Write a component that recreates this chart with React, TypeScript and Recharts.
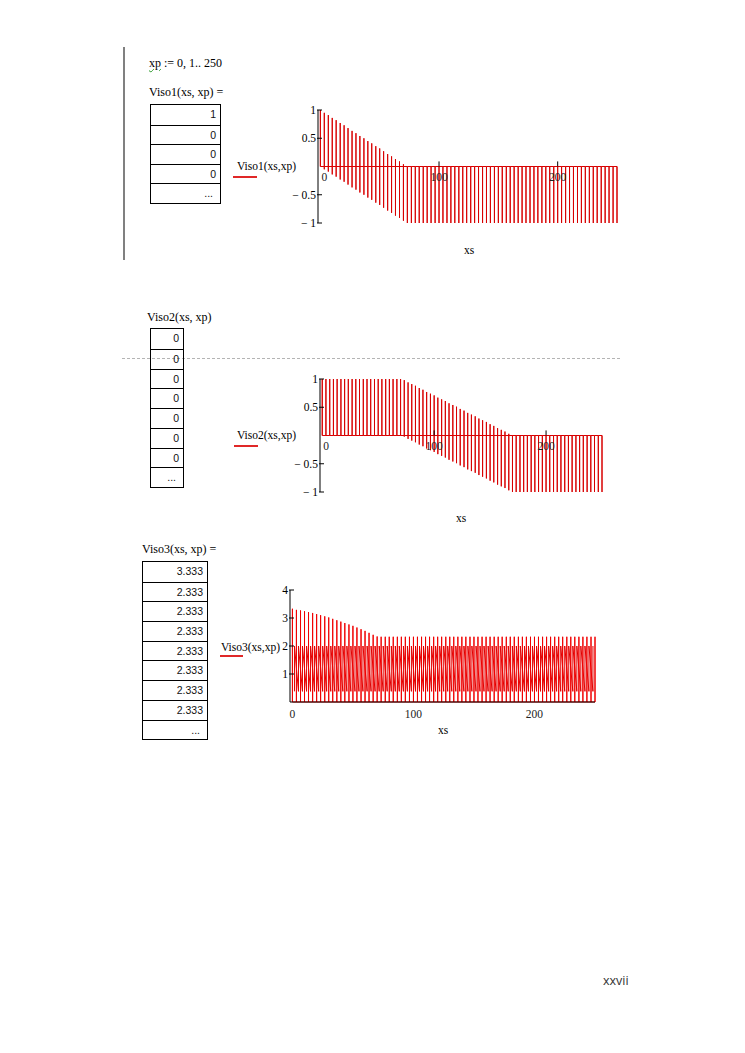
import React from 'react';
import { LineChart, Line, XAxis, YAxis, ReferenceDot, ReferenceLine } from 'recharts';

const SERIF = '"Liberation Serif", "Times New Roman", serif';
const SANS = '"Liberation Sans", Arial, sans-serif';

// stripe positions along xs (shared by the three plots)
const stripeXs = [
  0, 3.3, 6.7, 10, 13.3, 16.7, 20, 23.3, 26.7, 30,
  33.3, 36.7, 40, 43.3, 46.7, 50, 53.3, 56.7, 60, 63.3,
  66.7, 70, 73.3, 76.7, 80, 83.3, 86.7, 90, 93.3, 96.7,
  100, 103.3, 106.7, 110, 113.3, 116.7, 120, 123.3, 126.7, 130,
  133.3, 136.7, 140, 143.3, 146.7, 150, 153.3, 156.7, 160, 163.3,
  166.7, 170, 173.3, 176.7, 180, 183.3, 186.7, 190, 193.3, 196.7,
  200, 203.3, 206.7, 210, 213.3, 216.7, 220, 223.3, 226.7, 230,
  233.3, 236.7, 240, 243.3, 246.7, 250,
];

const viso1Top = [
  1, 0.95, 0.91, 0.86, 0.82, 0.77, 0.73, 0.68, 0.63, 0.59,
  0.54, 0.5, 0.45, 0.41, 0.36, 0.32, 0.27, 0.22, 0.18, 0.13,
  0.09, 0.04, 0, 0, 0, 0, 0, 0, 0, 0,
  0, 0, 0, 0, 0, 0, 0, 0, 0, 0,
  0, 0, 0, 0, 0, 0, 0, 0, 0, 0,
  0, 0, 0, 0, 0, 0, 0, 0, 0, 0,
  0, 0, 0, 0, 0, 0, 0, 0, 0, 0,
  0, 0, 0, 0, 0, 0,
];
const viso1Bottom = [
  0, -0.05, -0.09, -0.14, -0.18, -0.23, -0.27, -0.32, -0.37, -0.41,
  -0.46, -0.5, -0.55, -0.59, -0.64, -0.68, -0.73, -0.78, -0.82, -0.87,
  -0.91, -0.96, -1, -1, -1, -1, -1, -1, -1, -1,
  -1, -1, -1, -1, -1, -1, -1, -1, -1, -1,
  -1, -1, -1, -1, -1, -1, -1, -1, -1, -1,
  -1, -1, -1, -1, -1, -1, -1, -1, -1, -1,
  -1, -1, -1, -1, -1, -1, -1, -1, -1, -1,
  -1, -1, -1, -1, -1, -1,
];

const viso2Top = [
  1, 1, 1, 1, 1, 1, 1, 1, 1, 1,
  1, 1, 1, 1, 1, 1, 1, 1, 1, 1,
  1, 1, 0.98, 0.94, 0.91, 0.88, 0.84, 0.81, 0.77, 0.74,
  0.71, 0.67, 0.64, 0.61, 0.57, 0.54, 0.51, 0.47, 0.44, 0.4,
  0.37, 0.34, 0.3, 0.27, 0.24, 0.2, 0.17, 0.13, 0.1, 0.07,
  0.03, 0, 0, 0, 0, 0, 0, 0, 0, 0,
  0, 0, 0, 0, 0, 0, 0, 0, 0, 0,
  0, 0, 0, 0, 0, 0,
];
const viso2Bottom = [
  0, 0, 0, 0, 0, 0, 0, 0, 0, 0,
  0, 0, 0, 0, 0, 0, 0, 0, 0, 0,
  0, 0, -0.02, -0.06, -0.09, -0.12, -0.16, -0.19, -0.23, -0.26,
  -0.29, -0.33, -0.36, -0.39, -0.43, -0.46, -0.49, -0.53, -0.56, -0.6,
  -0.63, -0.66, -0.7, -0.73, -0.76, -0.8, -0.83, -0.87, -0.9, -0.93,
  -0.97, -1, -1, -1, -1, -1, -1, -1, -1, -1,
  -1, -1, -1, -1, -1, -1, -1, -1, -1, -1,
  -1, -1, -1, -1, -1, -1,
];

const viso3Top = [
  3.33, 3.29, 3.27, 3.24, 3.21, 3.18, 3.14, 3.1, 3.06, 3.02,
  2.97, 2.92, 2.87, 2.82, 2.77, 2.72, 2.66, 2.6, 2.54, 2.47,
  2.4, 2.34, 2.33, 2.33, 2.33, 2.33, 2.33, 2.33, 2.33, 2.33,
  2.33, 2.33, 2.33, 2.33, 2.33, 2.33, 2.33, 2.33, 2.33, 2.33,
  2.33, 2.33, 2.33, 2.33, 2.33, 2.33, 2.33, 2.33, 2.33, 2.33,
  2.33, 2.33, 2.33, 2.33, 2.33, 2.33, 2.33, 2.33, 2.33, 2.33,
  2.33, 2.33, 2.33, 2.33, 2.33, 2.33, 2.33, 2.33, 2.33, 2.33,
  2.33, 2.33, 2.33, 2.33, 2.33, 2.33,
];
const viso3InnerXs = [
  1.7, 5, 8.3, 11.7, 15, 18.3, 21.7, 25, 28.3, 31.7,
  35, 38.3, 41.7, 45, 48.3, 51.7, 55, 58.3, 61.7, 65,
  68.3, 71.7, 75, 78.3, 81.7, 85, 88.3, 91.7, 95, 98.3,
  101.7, 105, 108.3, 111.7, 115, 118.3, 121.7, 125, 128.3, 131.7,
  135, 138.3, 141.7, 145, 148.3, 151.7, 155, 158.3, 161.7, 165,
  168.3, 171.7, 175, 178.3, 181.7, 185, 188.3, 191.7, 195, 198.3,
  201.7, 205, 208.3, 211.7, 215, 218.3, 221.7, 225, 228.3, 231.7,
  235, 238.3, 241.7, 245, 248.3,
];
const viso3InnerLevels = [0.38, 2.0];

const xTickValues = [0, 100, 200];
const viso12YTicks = [-1, -0.5, 0.5, 1];
const viso3YTicks = [1, 2, 3, 4];

const table1 = ['1', '0', '0', '0'];
const table2 = ['0', '0', '0', '0', '0', '0', '0'];
const table3 = ['3.333', '2.333', '2.333', '2.333', '2.333', '2.333', '2.333', '2.333'];

function stripeData(xs: number[], top: number[], bottom?: number[]) {
  const out: { x: number; y: number }[] = [];
  xs.forEach((x, i) => {
    out.push({ x, y: 0 }, { x, y: top[i] });
    if (bottom) out.push({ x, y: bottom[i] });
    out.push({ x, y: 0 });
  });
  return out;
}
function innerData(xs: number[], levels: number[]) {
  const out: { x: number; y: number }[] = [];
  xs.forEach((x) => {
    out.push({ x, y: levels[0] }, { x, y: levels[1] });
  });
  return out;
}

const data1 = stripeData(stripeXs, viso1Top, viso1Bottom);
const data2 = stripeData(stripeXs, viso2Top, viso2Bottom);
const data3 = stripeData(stripeXs, viso3Top);
const data3Inner = innerData(viso3InnerXs, viso3InnerLevels);

const fmtY = (v: number) => (v < 0 ? `\u2212 ${Math.abs(v)}` : String(v));

const YTick = (props: any) => {
  const { x, y, payload } = props;
  return (
    <g>
      <line x1={x - 1} x2={x + 4} y1={y} y2={y} stroke="#000" strokeWidth={1} />
      <text x={x - 2} y={y} dy="0.35em" textAnchor="end" fontSize={11.5} fontFamily={SERIF} fill="#000">
        {fmtY(payload.value)}
      </text>
    </g>
  );
};

const XLabel = (props: any) => {
  const { viewBox, value } = props;
  const cx = viewBox.x + viewBox.width / 2 + (value === 0 ? 4 : 0);
  const cy = viewBox.y + viewBox.height / 2;
  return (
    <text x={cx} y={cy + 10} dy="0.35em" textAnchor="middle" fontSize={11.5} fontFamily={SERIF} fill="#222">
      {String(value)}
    </text>
  );
};

const T = ({ x, y, size = 12, family = SERIF, children, style }: any) => (
  <div
    style={{
      position: 'absolute',
      left: x,
      top: y - size / 2,
      fontSize: size,
      lineHeight: `${size}px`,
      fontFamily: family,
      whiteSpace: 'nowrap',
      color: '#000',
      ...style,
    }}
  >
    {children}
  </div>
);

const Table = ({ x, y, w, rowH, values }: any) => (
  <div style={{ position: 'absolute', left: x, top: y, width: w, border: '1px solid #000', boxSizing: 'border-box' }}>
    {[...values, '...'].map((v: string, i: number) => (
      <div
        key={i}
        style={{
          height: rowH,
          borderTop: i ? '1px solid #000' : 'none',
          boxSizing: 'border-box',
          textAlign: 'right',
          paddingRight: v === '...' ? 7 : 4,
          fontSize: 10.5,
          lineHeight: `${rowH - 1}px`,
          fontFamily: SANS,
          color: '#111',
        }}
      >
        {v}
      </div>
    ))}
  </div>
);

const Legend = ({ x, y, lineX, lineW, lineY, text }: any) => (
  <>
    <T x={x} y={y} size={11.5}>{text}</T>
    <div style={{ position: 'absolute', left: lineX, top: lineY, width: lineW, height: 2, background: '#e02828' }} />
  </>
);

const StripeChart = ({ left, top, plotW, data, xs }: any) => (
  <div style={{ position: 'absolute', left, top }}>
    <LineChart width={40 + plotW + 5} height={123} data={data} margin={{ top: 5, right: 5, bottom: 5, left: 0 }}>
      <XAxis type="number" dataKey="x" domain={[-2, 250]} hide />
      <YAxis
        type="number"
        domain={[-1, 1]}
        ticks={viso12YTicks}
        width={40}
        tickSize={0}
        tickMargin={0}
        tickLine={false}
        axisLine={{ stroke: '#000' }}
        tick={<YTick />}
        interval={0}
      />
      <Line
        type="linear"
        dataKey="y"
        stroke="#d80000"
        strokeWidth={1}
        dot={false}
        activeDot={false}
        isAnimationActive={false}
      />
      {xs.map((v: number) =>
        v > 0 ? (
          <ReferenceLine
            key={`t${v}`}
            segment={[{ x: v, y: 0 }, { x: v, y: 0.09 }]}
            stroke="#000"
            ifOverflow="visible"
          />
        ) : null
      )}
      {xs.map((v: number) => (
        <ReferenceDot
          key={`l${v}`}
          x={v}
          y={0}
          r={0.5}
          fill="none"
          stroke="none"
          ifOverflow="visible"
          label={<XLabel value={v} />}
        />
      ))}
    </LineChart>
  </div>
);

export default function App() {
  return (
    <div style={{ position: 'absolute', left: 0, top: 0, width: 745, height: 1053, background: '#fff', overflow: 'hidden' }}>
      {/* left margin bar */}
      <div style={{ position: 'absolute', left: 123, top: 47, width: 2, height: 213, background: '#808080' }} />
      {/* dashed page separator */}
      <div style={{ position: 'absolute', left: 122, top: 358, width: 498, height: 0, borderTop: '1px dashed #b4b4b4' }} />

      <T x={149} y={63}>
        <span style={{ textDecoration: 'underline wavy #2a9a2a', textDecorationThickness: 1 }}>xp</span> := 0, 1.. 250
      </T>

      {/* Viso1 */}
      <T x={149} y={92}>Viso1(xs, xp) =</T>
      <Table x={150} y={104} w={71} rowH={19.6} values={table1} />
      <Legend x={237} y={167} lineX={233} lineW={24} lineY={176} text="Viso1(xs,xp)" />
      <StripeChart left={278} top={105} plotW={299} data={data1} xs={xTickValues} />
      <T x={464} y={251} size={11.5}>xs</T>

      {/* Viso2 */}
      <T x={147} y={317}>Viso2(xs, xp)</T>
      <Table x={150} y={328} w={34} rowH={19.75} values={table2} />
      <Legend x={237} y={436} lineX={234} lineW={24} lineY={445} text="Viso2(xs,xp)" />
      <StripeChart left={280} top={374} plotW={282} data={data2} xs={xTickValues} />
      <T x={456} y={519} size={11.5}>xs</T>

      {/* Viso3 */}
      <T x={142} y={549}>Viso3(xs, xp) =</T>
      <Table x={142} y={561} w={66} rowH={19.7} values={table3} />
      <Legend x={221} y={648} lineX={220} lineW={23} lineY={655} text="Viso3(xs,xp)" />
      <div style={{ position: 'absolute', left: 250, top: 585 }}>
        <LineChart width={350} height={137} margin={{ top: 5, right: 5, bottom: 0, left: 0 }}>
          <XAxis
            type="number"
            dataKey="x"
            domain={[-2, 250]}
            ticks={xTickValues}
            tickLine={false}
            axisLine={{ stroke: '#000' }}
            tick={{ fontSize: 11.5, fontFamily: SERIF, fill: '#222' }}
            tickMargin={2}
            height={20}
            interval={0}
          />
          <YAxis
            type="number"
            domain={[0, 4]}
            ticks={viso3YTicks}
            width={40}
            tickSize={0}
            tickMargin={0}
            tickLine={false}
            axisLine={{ stroke: '#000' }}
            tick={<YTick />}
            interval={0}
          />
          <Line
            data={data3Inner}
            type="linear"
            dataKey="y"
            stroke="#e00000"
            strokeWidth={1}
            dot={false}
            activeDot={false}
            isAnimationActive={false}
          />
          <Line
            data={data3}
            type="linear"
            dataKey="y"
            stroke="#f00000"
            strokeWidth={1}
            dot={false}
            activeDot={false}
            isAnimationActive={false}
          />
        </LineChart>
      </div>
      <T x={438} y={731} size={11.5}>xs</T>

      <T x={603} y={981} size={12.5} family={'"Open Sans", "Liberation Sans", sans-serif'} style={{ color: '#333' }}>
        xxvii
      </T>
    </div>
  );
}
